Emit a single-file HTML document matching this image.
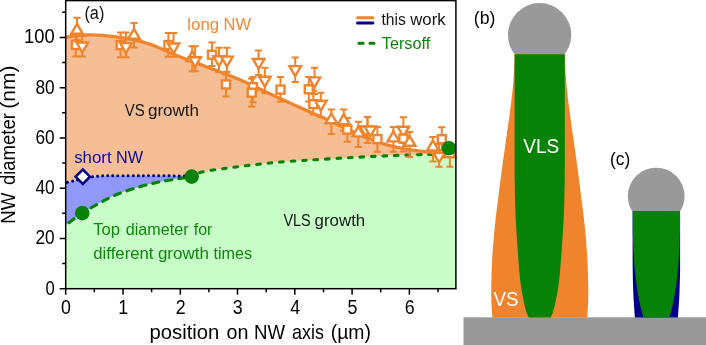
<!DOCTYPE html>
<html><head><meta charset="utf-8"><title>fig</title>
<style>
html,body{margin:0;padding:0;background:#fff;}
body{width:706px;height:345px;overflow:hidden;font-family:"Liberation Sans",sans-serif;}
svg{display:block;will-change:transform;}
text{font-family:"Liberation Sans",sans-serif;}
</style></head><body>
<svg width="706" height="345" viewBox="0 0 706 345">
<rect width="706" height="345" fill="#fff"/>
<defs><clipPath id="cp"><rect x="65.7" y="0.5" width="390.2" height="288.2"/></clipPath></defs>

<g clip-path="url(#cp)">
<path d="M66.0,224.8 C68.7,222.9 76.6,216.8 82.3,213.1 C88.0,209.4 94.0,206.0 100.0,202.8 C106.0,199.6 110.2,197.0 118.0,194.0 C125.8,191.0 138.3,187.1 147.0,184.8 C155.7,182.5 162.6,181.4 170.0,180.0 C177.4,178.6 186.3,177.9 191.6,176.6 C196.9,175.3 196.2,173.4 201.9,172.0 C207.6,170.6 217.8,169.4 225.7,168.3 C233.6,167.2 241.6,166.2 249.5,165.3 C257.4,164.4 265.3,163.4 273.2,162.7 C281.1,161.9 289.9,161.3 297.0,160.8 C304.1,160.3 308.9,160.1 316.0,159.7 C323.1,159.3 331.9,158.7 339.8,158.2 C347.7,157.7 355.7,157.3 363.6,156.9 C371.5,156.5 379.5,156.1 387.4,155.8 C395.3,155.5 404.6,155.2 411.2,155.0 C417.8,154.8 420.7,154.6 427.0,154.4 C433.3,154.2 444.2,153.9 449.0,153.8 C453.8,153.7 454.8,153.6 456.0,153.6 L456,288.7 L65.7,288.7 Z" fill="#C8FFC8"/>
<path d="M66.0,37.3 C68.0,37.0 74.0,35.7 78.0,35.3 C82.0,34.9 85.5,34.8 90.0,34.9 C94.5,35.0 100.0,35.3 105.0,35.7 C110.0,36.1 115.0,36.7 120.0,37.4 C125.0,38.1 130.0,38.9 135.0,40.0 C140.0,41.1 142.5,41.5 150.0,44.3 C157.5,47.1 172.3,53.6 180.0,56.7 C187.7,59.8 189.2,60.3 196.0,62.9 C202.8,65.5 212.7,69.0 221.0,72.3 C229.3,75.5 238.5,79.1 246.0,82.4 C253.5,85.7 257.7,88.1 266.0,92.0 C274.3,95.9 286.5,101.4 296.0,105.7 C305.5,110.0 314.8,114.1 323.0,117.8 C331.2,121.5 337.5,124.6 345.0,128.0 C352.5,131.4 361.3,135.6 368.0,138.3 C374.7,141.0 379.2,142.6 385.0,144.3 C390.8,146.0 397.8,147.5 403.0,148.5 C408.2,149.5 411.5,149.9 416.0,150.5 C420.5,151.1 424.5,151.7 430.0,152.2 C435.5,152.7 444.7,153.2 449.0,153.5 C453.3,153.8 454.8,153.7 456.0,153.7 L456,153.6 L456.0,153.6 C454.8,153.6 453.8,153.7 449.0,153.8 C444.2,153.9 433.3,154.2 427.0,154.4 C420.7,154.6 417.8,154.8 411.2,155.0 C404.6,155.2 395.3,155.5 387.4,155.8 C379.5,156.1 371.5,156.5 363.6,156.9 C355.7,157.3 347.7,157.7 339.8,158.2 C331.9,158.7 323.1,159.3 316.0,159.7 C308.9,160.1 304.1,160.3 297.0,160.8 C289.9,161.3 281.1,161.9 273.2,162.7 C265.3,163.4 257.4,164.4 249.5,165.3 C241.6,166.2 233.6,167.2 225.7,168.3 C217.8,169.4 207.6,170.7 201.9,172.0 C196.2,173.3 196.1,175.8 191.6,176.4 C187.1,177.1 183.6,176.0 175.0,175.9 C166.4,175.8 151.2,175.7 140.0,175.7 C128.8,175.7 114.7,175.6 108.0,175.7 C101.3,175.8 102.2,176.0 100.0,176.1 C97.8,176.2 96.7,176.3 95.0,176.5 C93.3,176.7 91.8,176.8 90.0,177.1 C88.2,177.4 86.0,177.9 84.0,178.3 C82.0,178.8 80.0,179.3 78.0,179.8 C76.0,180.3 74.0,180.8 72.0,181.3 C70.0,181.8 67.0,182.4 66.0,182.6 Z" fill="#F6BE94"/>
<path d="M66.0,182.6 C67.0,182.4 70.0,181.8 72.0,181.3 C74.0,180.8 76.0,180.3 78.0,179.8 C80.0,179.3 82.0,178.8 84.0,178.3 C86.0,177.9 88.2,177.4 90.0,177.1 C91.8,176.8 93.3,176.7 95.0,176.5 C96.7,176.3 97.8,176.2 100.0,176.1 C102.2,176.0 101.3,175.8 108.0,175.7 C114.7,175.6 128.8,175.7 140.0,175.7 C151.2,175.7 166.4,175.8 175.0,175.9 C183.6,176.0 188.8,176.3 191.6,176.4 L191.6,176.6 C188.0,177.2 177.4,178.6 170.0,180.0 C162.6,181.4 155.7,182.5 147.0,184.8 C138.3,187.1 125.8,191.0 118.0,194.0 C110.2,197.0 106.0,199.6 100.0,202.8 C94.0,206.0 88.0,209.4 82.3,213.1 C76.6,216.8 68.7,222.9 66.0,224.8 Z" fill="#9098F8"/>
</g>
<path d="M66.0,224.8 C68.7,222.9 76.6,216.8 82.3,213.1 C88.0,209.4 94.0,206.0 100.0,202.8 C106.0,199.6 110.2,197.0 118.0,194.0 C125.8,191.0 138.3,187.1 147.0,184.8 C155.7,182.5 162.6,181.4 170.0,180.0 C177.4,178.6 186.3,177.9 191.6,176.6" fill="none" stroke="#068206" stroke-width="3.1" stroke-dasharray="6.5 6.8" stroke-linecap="round" stroke-dashoffset="-3.6" clip-path="url(#cp)"/>
<path d="M191.6,176.6 C196.9,175.3 196.2,173.4 201.9,172.0 C207.6,170.6 217.8,169.4 225.7,168.3 C233.6,167.2 241.6,166.2 249.5,165.3 C257.4,164.4 265.3,163.4 273.2,162.7 C281.1,161.9 289.9,161.3 297.0,160.8 C304.1,160.3 308.9,160.1 316.0,159.7 C323.1,159.3 331.9,158.7 339.8,158.2 C347.7,157.7 355.7,157.3 363.6,156.9 C371.5,156.5 379.5,156.1 387.4,155.8 C395.3,155.5 404.6,155.2 411.2,155.0 C417.8,154.8 420.7,154.6 427.0,154.4 C433.3,154.2 444.2,153.9 449.0,153.8 C453.8,153.7 454.8,153.6 456.0,153.6" fill="none" stroke="#068206" stroke-width="3.1" stroke-dasharray="3.6 7.9" stroke-linecap="round" stroke-dashoffset="-9.2" clip-path="url(#cp)"/>
<path d="M66.0,182.6 C67.0,182.4 70.0,181.8 72.0,181.3 C74.0,180.8 76.0,180.3 78.0,179.8 C80.0,179.3 82.0,178.8 84.0,178.3 C86.0,177.9 88.2,177.4 90.0,177.1 C91.8,176.8 93.3,176.7 95.0,176.5 C96.7,176.3 97.8,176.2 100.0,176.1 C102.2,176.0 101.3,175.8 108.0,175.7 C114.7,175.6 128.8,175.7 140.0,175.7 C151.2,175.7 166.4,175.8 175.0,175.9 C183.6,176.0 188.8,176.3 191.6,176.4" fill="none" stroke="#00008B" stroke-width="3" stroke-dasharray="0.1 5.0" stroke-dashoffset="-1.6" stroke-linecap="round" clip-path="url(#cp)"/>
<path d="M66.0,37.3 C68.0,37.0 74.0,35.7 78.0,35.3 C82.0,34.9 85.5,34.8 90.0,34.9 C94.5,35.0 100.0,35.3 105.0,35.7 C110.0,36.1 115.0,36.7 120.0,37.4 C125.0,38.1 130.0,38.9 135.0,40.0 C140.0,41.1 142.5,41.5 150.0,44.3 C157.5,47.1 172.3,53.6 180.0,56.7 C187.7,59.8 189.2,60.3 196.0,62.9 C202.8,65.5 212.7,69.0 221.0,72.3 C229.3,75.5 238.5,79.1 246.0,82.4 C253.5,85.7 257.7,88.1 266.0,92.0 C274.3,95.9 286.5,101.4 296.0,105.7 C305.5,110.0 314.8,114.1 323.0,117.8 C331.2,121.5 337.5,124.6 345.0,128.0 C352.5,131.4 361.3,135.6 368.0,138.3 C374.7,141.0 379.2,142.6 385.0,144.3 C390.8,146.0 397.8,147.5 403.0,148.5 C408.2,149.5 411.5,149.9 416.0,150.5 C420.5,151.1 424.5,151.7 430.0,152.2 C435.5,152.7 444.7,153.2 449.0,153.5 C453.3,153.8 454.8,153.7 456.0,153.7" fill="none" stroke="#F0842C" stroke-width="3.3" clip-path="url(#cp)"/>
<g>
<path d="M75.8,36.0 V56.6 M72.2,36.0 H79.4 M72.2,56.6 H79.4" fill="none" stroke="#F0842C" stroke-width="2"/>
<path d="M82.2,36.0 V56.6 M78.6,36.0 H85.8 M78.6,56.6 H85.8" fill="none" stroke="#F0842C" stroke-width="2"/>
<path d="M77.0,17.8 V40.0 M73.4,17.8 H80.6 M73.4,40.0 H80.6" fill="none" stroke="#F0842C" stroke-width="2"/>
<path d="M120.6,32.5 V57.3 M117.0,32.5 H124.2 M117.0,57.3 H124.2" fill="none" stroke="#F0842C" stroke-width="2"/>
<path d="M125.9,32.5 V57.3 M122.3,32.5 H129.5 M122.3,57.3 H129.5" fill="none" stroke="#F0842C" stroke-width="2"/>
<path d="M134.0,23.0 V47.5 M130.4,23.0 H137.6 M130.4,47.5 H137.6" fill="none" stroke="#F0842C" stroke-width="2"/>
<path d="M168.4,32.9 V56.8 M164.8,32.9 H172.0 M164.8,56.8 H172.0" fill="none" stroke="#F0842C" stroke-width="2"/>
<path d="M173.6,32.9 V56.8 M170.0,32.9 H177.2 M170.0,56.8 H177.2" fill="none" stroke="#F0842C" stroke-width="2"/>
<path d="M192.2,46.2 V71.3 M188.6,46.2 H195.8 M188.6,71.3 H195.8" fill="none" stroke="#F0842C" stroke-width="2"/>
<path d="M195.1,46.2 V71.3 M191.5,46.2 H198.7 M191.5,71.3 H198.7" fill="none" stroke="#F0842C" stroke-width="2"/>
<path d="M212.0,42.5 V66.0 M208.4,42.5 H215.6 M208.4,66.0 H215.6" fill="none" stroke="#F0842C" stroke-width="2"/>
<path d="M219.0,47.8 V72.0 M215.4,47.8 H222.6 M215.4,72.0 H222.6" fill="none" stroke="#F0842C" stroke-width="2"/>
<path d="M226.9,47.8 V72.0 M223.3,47.8 H230.5 M223.3,72.0 H230.5" fill="none" stroke="#F0842C" stroke-width="2"/>
<path d="M226.0,74.5 V96.4 M222.4,74.5 H229.6 M222.4,96.4 H229.6" fill="none" stroke="#F0842C" stroke-width="2"/>
<path d="M252.9,76.9 V102.3 M249.3,76.9 H256.5 M249.3,102.3 H256.5" fill="none" stroke="#F0842C" stroke-width="2"/>
<path d="M251.7,78.8 V106.6 M248.1,78.8 H255.3 M248.1,106.6 H255.3" fill="none" stroke="#F0842C" stroke-width="2"/>
<path d="M258.6,50.4 V75.0 M255.0,50.4 H262.2 M255.0,75.0 H262.2" fill="none" stroke="#F0842C" stroke-width="2"/>
<path d="M264.9,67.8 V93.0 M261.3,67.8 H268.5 M261.3,93.0 H268.5" fill="none" stroke="#F0842C" stroke-width="2"/>
<path d="M280.5,76.9 V101.7 M276.9,76.9 H284.1 M276.9,101.7 H284.1" fill="none" stroke="#F0842C" stroke-width="2"/>
<path d="M295.2,57.4 V82.0 M291.6,57.4 H298.8 M291.6,82.0 H298.8" fill="none" stroke="#F0842C" stroke-width="2"/>
<path d="M308.8,77.0 V101.4 M305.2,77.0 H312.4 M305.2,101.4 H312.4" fill="none" stroke="#F0842C" stroke-width="2"/>
<path d="M314.5,67.8 V94.0 M310.9,67.8 H318.1 M310.9,94.0 H318.1" fill="none" stroke="#F0842C" stroke-width="2"/>
<path d="M313.3,91.0 V114.5 M309.7,91.0 H316.9 M309.7,114.5 H316.9" fill="none" stroke="#F0842C" stroke-width="2"/>
<path d="M320.8,92.8 V117.0 M317.2,92.8 H324.4 M317.2,117.0 H324.4" fill="none" stroke="#F0842C" stroke-width="2"/>
<path d="M331.3,109.5 V134.0 M327.7,109.5 H334.9 M327.7,134.0 H334.9" fill="none" stroke="#F0842C" stroke-width="2"/>
<path d="M343.8,109.6 V131.0 M340.2,109.6 H347.4 M340.2,131.0 H347.4" fill="none" stroke="#F0842C" stroke-width="2"/>
<path d="M347.3,118.0 V141.7 M343.7,118.0 H350.9 M343.7,141.7 H350.9" fill="none" stroke="#F0842C" stroke-width="2"/>
<path d="M358.3,121.7 V147.0 M354.7,121.7 H361.9 M354.7,147.0 H361.9" fill="none" stroke="#F0842C" stroke-width="2"/>
<path d="M367.5,116.9 V143.0 M363.9,116.9 H371.1 M363.9,143.0 H371.1" fill="none" stroke="#F0842C" stroke-width="2"/>
<path d="M367.5,116.9 V143.0 M363.9,116.9 H371.1 M363.9,143.0 H371.1" fill="none" stroke="#F0842C" stroke-width="2"/>
<path d="M377.4,127.0 V151.8 M373.8,127.0 H381.0 M373.8,151.8 H381.0" fill="none" stroke="#F0842C" stroke-width="2"/>
<path d="M393.4,127.0 V151.8 M389.8,127.0 H397.0 M389.8,151.8 H397.0" fill="none" stroke="#F0842C" stroke-width="2"/>
<path d="M403.4,117.3 V143.0 M399.8,117.3 H407.0 M399.8,143.0 H407.0" fill="none" stroke="#F0842C" stroke-width="2"/>
<path d="M403.4,127.0 V151.4 M399.8,127.0 H407.0 M399.8,151.4 H407.0" fill="none" stroke="#F0842C" stroke-width="2"/>
<path d="M409.6,132.0 V157.0 M406.0,132.0 H413.2 M406.0,157.0 H413.2" fill="none" stroke="#F0842C" stroke-width="2"/>
<path d="M432.9,136.9 V161.6 M429.3,136.9 H436.5 M429.3,161.6 H436.5" fill="none" stroke="#F0842C" stroke-width="2"/>
<path d="M441.8,127.3 V150.0 M438.2,127.3 H445.4 M438.2,150.0 H445.4" fill="none" stroke="#F0842C" stroke-width="2"/>
<path d="M439.1,144.0 V166.8 M435.5,144.0 H442.7 M435.5,166.8 H442.7" fill="none" stroke="#F0842C" stroke-width="2"/>
<path d="M449.9,144.0 V166.8 M446.3,144.0 H453.5 M446.3,166.8 H453.5" fill="none" stroke="#F0842C" stroke-width="2"/>
<rect x="71.8" y="41.0" width="8.0" height="8.0" fill="#fff" stroke="#F0842C" stroke-width="2.4"/>
<path d="M76.5,42.5 L88.0,42.5 L82.2,52.4 Z" fill="#fff" stroke="#F0842C" stroke-width="2.4" stroke-linejoin="miter"/>
<path d="M71.2,33.8 L82.8,33.8 L77.0,23.9 Z" fill="#fff" stroke="#F0842C" stroke-width="2.4" stroke-linejoin="miter"/>
<rect x="116.6" y="41.0" width="8.0" height="8.0" fill="#fff" stroke="#F0842C" stroke-width="2.4"/>
<path d="M120.2,43.1 L131.7,43.1 L125.9,53.0 Z" fill="#fff" stroke="#F0842C" stroke-width="2.4" stroke-linejoin="miter"/>
<path d="M128.2,38.8 L139.8,38.8 L134.0,28.9 Z" fill="#fff" stroke="#F0842C" stroke-width="2.4" stroke-linejoin="miter"/>
<rect x="164.4" y="41.0" width="8.0" height="8.0" fill="#fff" stroke="#F0842C" stroke-width="2.4"/>
<path d="M167.8,43.5 L179.3,43.5 L173.6,53.4 Z" fill="#fff" stroke="#F0842C" stroke-width="2.4" stroke-linejoin="miter"/>
<path d="M186.4,61.4 L197.9,61.4 L192.2,51.5 Z" fill="#fff" stroke="#F0842C" stroke-width="2.4" stroke-linejoin="miter"/>
<path d="M189.3,57.2 L200.8,57.2 L195.1,67.1 Z" fill="#fff" stroke="#F0842C" stroke-width="2.4" stroke-linejoin="miter"/>
<rect x="208.0" y="50.7" width="8.0" height="8.0" fill="#fff" stroke="#F0842C" stroke-width="2.4"/>
<path d="M213.2,56.2 L224.8,56.2 L219.0,66.1 Z" fill="#fff" stroke="#F0842C" stroke-width="2.4" stroke-linejoin="miter"/>
<path d="M221.2,56.6 L232.7,56.6 L226.9,66.5 Z" fill="#fff" stroke="#F0842C" stroke-width="2.4" stroke-linejoin="miter"/>
<rect x="222.0" y="80.4" width="8.0" height="8.0" fill="#fff" stroke="#F0842C" stroke-width="2.4"/>
<rect x="248.9" y="83.2" width="8.0" height="8.0" fill="#fff" stroke="#F0842C" stroke-width="2.4"/>
<rect x="247.7" y="88.7" width="8.0" height="8.0" fill="#fff" stroke="#F0842C" stroke-width="2.4"/>
<path d="M252.9,59.0 L264.4,59.0 L258.6,68.9 Z" fill="#fff" stroke="#F0842C" stroke-width="2.4" stroke-linejoin="miter"/>
<path d="M259.1,76.8 L270.6,76.8 L264.9,86.7 Z" fill="#fff" stroke="#F0842C" stroke-width="2.4" stroke-linejoin="miter"/>
<rect x="276.5" y="85.6" width="8.0" height="8.0" fill="#fff" stroke="#F0842C" stroke-width="2.4"/>
<path d="M289.4,66.1 L300.9,66.1 L295.2,76.0 Z" fill="#fff" stroke="#F0842C" stroke-width="2.4" stroke-linejoin="miter"/>
<rect x="304.8" y="85.3" width="8.0" height="8.0" fill="#fff" stroke="#F0842C" stroke-width="2.4"/>
<path d="M308.8,77.4 L320.2,77.4 L314.5,87.3 Z" fill="#fff" stroke="#F0842C" stroke-width="2.4" stroke-linejoin="miter"/>
<rect x="309.3" y="100.2" width="8.0" height="8.0" fill="#fff" stroke="#F0842C" stroke-width="2.4"/>
<path d="M315.1,100.8 L326.6,100.8 L320.8,110.7 Z" fill="#fff" stroke="#F0842C" stroke-width="2.4" stroke-linejoin="miter"/>
<path d="M325.6,123.3 L337.1,123.3 L331.3,113.4 Z" fill="#fff" stroke="#F0842C" stroke-width="2.4" stroke-linejoin="miter"/>
<path d="M338.1,124.1 L349.6,124.1 L343.8,114.2 Z" fill="#fff" stroke="#F0842C" stroke-width="2.4" stroke-linejoin="miter"/>
<rect x="343.3" y="125.6" width="8.0" height="8.0" fill="#fff" stroke="#F0842C" stroke-width="2.4"/>
<path d="M352.6,136.4 L364.1,136.4 L358.3,126.5 Z" fill="#fff" stroke="#F0842C" stroke-width="2.4" stroke-linejoin="miter"/>
<path d="M359.9,126.5 L371.4,126.5 L365.6,136.4 Z" fill="#fff" stroke="#F0842C" stroke-width="2.4" stroke-linejoin="miter"/>
<path d="M364.6,126.5 L376.1,126.5 L370.3,136.4 Z" fill="#fff" stroke="#F0842C" stroke-width="2.4" stroke-linejoin="miter"/>
<rect x="373.4" y="135.1" width="8.0" height="8.0" fill="#fff" stroke="#F0842C" stroke-width="2.4"/>
<path d="M387.6,141.4 L399.1,141.4 L393.4,131.5 Z" fill="#fff" stroke="#F0842C" stroke-width="2.4" stroke-linejoin="miter"/>
<path d="M397.6,126.7 L409.1,126.7 L403.4,136.6 Z" fill="#fff" stroke="#F0842C" stroke-width="2.4" stroke-linejoin="miter"/>
<rect x="399.4" y="134.6" width="8.0" height="8.0" fill="#fff" stroke="#F0842C" stroke-width="2.4"/>
<path d="M403.9,145.8 L415.4,145.8 L409.6,135.9 Z" fill="#fff" stroke="#F0842C" stroke-width="2.4" stroke-linejoin="miter"/>
<path d="M427.1,150.4 L438.6,150.4 L432.9,140.5 Z" fill="#fff" stroke="#F0842C" stroke-width="2.4" stroke-linejoin="miter"/>
<rect x="437.8" y="135.2" width="8.0" height="8.0" fill="#fff" stroke="#F0842C" stroke-width="2.4"/>
<path d="M433.4,152.7 L444.9,152.7 L439.1,162.6 Z" fill="#fff" stroke="#F0842C" stroke-width="2.4" stroke-linejoin="miter"/>
<path d="M444.1,157.3 L455.6,157.3 L449.9,147.4 Z" fill="#fff" stroke="#F0842C" stroke-width="2.4" stroke-linejoin="miter"/>
</g>
<circle cx="82.3" cy="213.1" r="7.3" fill="#068206"/>
<circle cx="191.7" cy="176.6" r="7.3" fill="#068206"/>
<circle cx="449.0" cy="148.2" r="7.3" fill="#068206"/>
<path d="M82.8,169.5 L90,176.7 L82.8,183.9 L75.6,176.7 Z" fill="#fff" stroke="#00008B" stroke-width="2.5"/>
<rect x="65.7" y="0.6" width="390.2" height="288.1" fill="none" stroke="#000" stroke-width="1.5"/>
<path d="M65.7,288.7 v6.0 M94.3,288.7 v3.5 M123.0,288.7 v6.0 M151.6,288.7 v3.5 M180.3,288.7 v6.0 M208.9,288.7 v3.5 M237.5,288.7 v6.0 M266.2,288.7 v3.5 M294.8,288.7 v6.0 M323.5,288.7 v3.5 M352.1,288.7 v6.0 M380.7,288.7 v3.5 M409.4,288.7 v6.0 M438.0,288.7 v3.5 M65.7,288.7 h-6.0 M65.7,263.6 h-3.5 M65.7,238.4 h-6.0 M65.7,213.3 h-3.5 M65.7,188.2 h-6.0 M65.7,163.1 h-3.5 M65.7,137.9 h-6.0 M65.7,112.8 h-3.5 M65.7,87.7 h-6.0 M65.7,62.5 h-3.5 M65.7,37.4 h-6.0 M65.7,12.3 h-3.5" stroke="#000" stroke-width="1.5" fill="none"/>
<text x="66.0" y="313.6" font-size="19.4" textLength="9.9" lengthAdjust="spacingAndGlyphs" text-anchor="middle" fill="#000">0</text>
<text x="123.3" y="313.6" font-size="19.4" textLength="9.9" lengthAdjust="spacingAndGlyphs" text-anchor="middle" fill="#000">1</text>
<text x="180.6" y="313.6" font-size="19.4" textLength="9.9" lengthAdjust="spacingAndGlyphs" text-anchor="middle" fill="#000">2</text>
<text x="237.8" y="313.6" font-size="19.4" textLength="9.9" lengthAdjust="spacingAndGlyphs" text-anchor="middle" fill="#000">3</text>
<text x="295.1" y="313.6" font-size="19.4" textLength="9.9" lengthAdjust="spacingAndGlyphs" text-anchor="middle" fill="#000">4</text>
<text x="352.4" y="313.6" font-size="19.4" textLength="9.9" lengthAdjust="spacingAndGlyphs" text-anchor="middle" fill="#000">5</text>
<text x="409.7" y="313.6" font-size="19.4" textLength="9.9" lengthAdjust="spacingAndGlyphs" text-anchor="middle" fill="#000">6</text>
<text x="45.5" y="294.6" font-size="19.4" textLength="9.2" lengthAdjust="spacingAndGlyphs" fill="#000">0</text>
<text x="35.5" y="244.3" font-size="19.4" textLength="19.2" lengthAdjust="spacingAndGlyphs" fill="#000">20</text>
<text x="35.5" y="194.1" font-size="19.4" textLength="19.2" lengthAdjust="spacingAndGlyphs" fill="#000">40</text>
<text x="35.5" y="143.8" font-size="19.4" textLength="19.2" lengthAdjust="spacingAndGlyphs" fill="#000">60</text>
<text x="35.5" y="93.6" font-size="19.4" textLength="19.2" lengthAdjust="spacingAndGlyphs" fill="#000">80</text>
<text x="24.1" y="43.3" font-size="19.4" textLength="30.7" lengthAdjust="spacingAndGlyphs" fill="#000">100</text>
<text x="149.5" y="338.6" font-size="20.3" textLength="69.8" lengthAdjust="spacingAndGlyphs" fill="#000">position</text>
<text x="226.5" y="338.6" font-size="20.3" textLength="21.9" lengthAdjust="spacingAndGlyphs" fill="#000">on</text>
<text x="254.1" y="338.6" font-size="20.3" textLength="31.1" lengthAdjust="spacingAndGlyphs" fill="#000">NW</text>
<text x="292.1" y="338.6" font-size="20.3" textLength="31.8" lengthAdjust="spacingAndGlyphs" fill="#000">axis</text>
<text x="330.7" y="338.6" font-size="20.3" textLength="40.3" lengthAdjust="spacingAndGlyphs" fill="#000">(µm)</text>
<g transform="translate(14.8,223) rotate(-90)"><text x="-0.7" y="0.0" font-size="20.3" textLength="30.9" lengthAdjust="spacingAndGlyphs" fill="#000">NW</text><text x="37.9" y="0.0" font-size="20.3" textLength="72.1" lengthAdjust="spacingAndGlyphs" fill="#000">diameter</text><text x="114.3" y="0.0" font-size="20.3" textLength="43.2" lengthAdjust="spacingAndGlyphs" fill="#000">(nm)</text></g>
<text x="84.4" y="18.6" font-size="19.2" textLength="20.0" lengthAdjust="spacingAndGlyphs" fill="#141414">(a)</text>
<text x="187.3" y="30.1" font-size="15.8" textLength="31.8" lengthAdjust="spacingAndGlyphs" fill="#F18832">long</text>
<text x="223.6" y="30.1" font-size="15.8" textLength="27.4" lengthAdjust="spacingAndGlyphs" fill="#F18832">NW</text>
<text x="124.7" y="115.9" font-size="15.6" textLength="19.9" lengthAdjust="spacingAndGlyphs" fill="#141414">VS</text>
<text x="147.9" y="115.9" font-size="15.6" textLength="51.2" lengthAdjust="spacingAndGlyphs" fill="#141414">growth</text>
<text x="74.2" y="162.9" font-size="15.8" textLength="37.4" lengthAdjust="spacingAndGlyphs" fill="#0A0A92">short</text>
<text x="116.1" y="162.9" font-size="15.8" textLength="27.0" lengthAdjust="spacingAndGlyphs" fill="#0A0A92">NW</text>
<text x="93.3" y="235.4" font-size="15.8" textLength="26.8" lengthAdjust="spacingAndGlyphs" fill="#0E860E">Top</text>
<text x="125.7" y="235.4" font-size="15.8" textLength="62.9" lengthAdjust="spacingAndGlyphs" fill="#0E860E">diameter</text>
<text x="193.7" y="235.4" font-size="15.8" textLength="18.7" lengthAdjust="spacingAndGlyphs" fill="#0E860E">for</text>
<text x="93.3" y="259.0" font-size="15.8" textLength="60.2" lengthAdjust="spacingAndGlyphs" fill="#0E860E">different</text>
<text x="157.9" y="259.0" font-size="15.8" textLength="51.1" lengthAdjust="spacingAndGlyphs" fill="#0E860E">growth</text>
<text x="213.4" y="259.0" font-size="15.8" textLength="38.6" lengthAdjust="spacingAndGlyphs" fill="#0E860E">times</text>
<text x="283.4" y="225.7" font-size="15.6" textLength="27.4" lengthAdjust="spacingAndGlyphs" fill="#141414">VLS</text>
<text x="314.6" y="225.7" font-size="15.6" textLength="50.6" lengthAdjust="spacingAndGlyphs" fill="#141414">growth</text>
<path d="M357.6,17.8 H372.9" stroke="#F0842C" stroke-width="3.1" stroke-linecap="round"/>
<path d="M357.6,23 H372.9" stroke="#00008B" stroke-width="3.1" stroke-linecap="round"/>
<text x="381.4" y="25.4" font-size="15.8" textLength="24.4" lengthAdjust="spacingAndGlyphs" fill="#141414">this</text>
<text x="410.3" y="25.4" font-size="15.8" textLength="35.3" lengthAdjust="spacingAndGlyphs" fill="#141414">work</text>
<path d="M358.9,43.3 H363.2 M369.9,43.3 H374" stroke="#068206" stroke-width="3" stroke-linecap="round"/>
<text x="381.8" y="48.8" font-size="15.8" textLength="48.4" lengthAdjust="spacingAndGlyphs" fill="#0E860E">Tersoff</text>
<text x="473.8" y="23.6" font-size="19.2" textLength="21.6" lengthAdjust="spacingAndGlyphs" fill="#000">(b)</text>
<text x="610.0" y="165.2" font-size="19.2" textLength="20.2" lengthAdjust="spacingAndGlyphs" fill="#000">(c)</text>
<rect x="463.5" y="317.3" width="243" height="28" fill="#999"/>
<circle cx="539.6" cy="34.8" r="31.7" fill="#999"/>
<path d="M564.9,54.3 C565.1,58.6 565.3,70.7 566.1,80.0 C566.8,89.3 568.1,100.0 569.4,110.0 C570.6,120.0 572.2,130.0 573.6,140.0 C575.0,150.0 576.5,160.0 577.8,170.0 C579.1,180.0 580.5,191.4 581.6,200.0 C582.7,208.6 583.5,214.2 584.3,221.7 C585.1,229.2 585.9,238.0 586.4,245.0 C586.9,252.0 587.3,256.2 587.6,263.5 C587.9,270.8 588.2,281.6 588.3,288.5 C588.4,295.4 588.2,300.2 588.0,305.0 C587.8,309.8 587.4,315.3 587.3,317.4 L492.3,317.4 C492.2,315.3 491.8,309.8 491.6,305.0 C491.4,300.2 491.2,295.4 491.3,288.5 C491.4,281.6 491.7,270.8 492.0,263.5 C492.3,256.2 492.6,252.0 493.2,245.0 C493.7,238.0 494.5,229.2 495.3,221.7 C496.1,214.2 496.9,208.6 498.0,200.0 C499.1,191.4 500.5,180.0 501.8,170.0 C503.1,160.0 504.6,150.0 506.0,140.0 C507.4,130.0 508.9,120.0 510.2,110.0 C511.4,100.0 512.8,89.3 513.5,80.0 C514.2,70.7 514.5,58.6 514.7,54.3 Z" fill="#F0842C"/>
<path d="M564.8,54.3 C564.8,65.2 564.8,101.5 564.8,120.0 C564.8,138.4 564.8,155.0 564.8,165.0 C564.8,175.0 564.8,174.2 564.7,180.0 C564.6,185.8 564.5,193.1 564.3,200.0 C564.1,206.9 563.9,214.6 563.5,221.7 C563.1,228.8 562.7,235.6 562.2,242.6 C561.7,249.6 561.3,256.6 560.7,263.5 C560.1,270.4 559.5,278.1 558.7,284.3 C557.9,290.6 556.6,296.5 555.7,301.0 C554.8,305.5 554.0,308.8 553.2,311.5 C552.4,314.2 551.1,316.4 550.7,317.4 L528.7,317.4 C528.3,316.4 527.0,314.2 526.2,311.5 C525.4,308.8 524.6,305.5 523.7,301.0 C522.8,296.5 521.5,290.6 520.7,284.3 C519.9,278.1 519.3,270.4 518.7,263.5 C518.1,256.6 517.7,249.6 517.2,242.6 C516.7,235.6 516.3,228.8 515.9,221.7 C515.6,214.6 515.3,206.9 515.1,200.0 C514.9,193.1 514.8,185.8 514.7,180.0 C514.6,174.2 514.6,175.0 514.6,165.0 C514.6,155.0 514.6,138.4 514.6,120.0 C514.6,101.5 514.6,65.2 514.6,54.3 Z" fill="#068206"/>
<text x="523.2" y="152.6" font-size="20.4" textLength="36" lengthAdjust="spacingAndGlyphs" fill="#fff">VLS</text>
<text x="493.5" y="305.6" font-size="20.4" textLength="25" lengthAdjust="spacingAndGlyphs" fill="#fff">VS</text>
<circle cx="656.2" cy="196.1" r="28.4" fill="#999"/>
<path d="M680.1,211.5 C680.1,217.9 680.2,240.2 680.1,250.0 C680.1,259.8 680.2,263.3 680.1,270.0 C680.0,276.7 679.8,284.2 679.6,290.0 C679.4,295.8 679.1,300.4 678.8,305.0 C678.5,309.6 678.0,315.3 677.9,317.4 L634.9,317.4 C634.8,315.3 634.3,309.6 634.0,305.0 C633.7,300.4 633.4,295.8 633.2,290.0 C633.0,284.2 632.8,276.7 632.7,270.0 C632.6,263.3 632.7,259.8 632.6,250.0 C632.6,240.2 632.6,217.9 632.6,211.5 Z" fill="#00008B"/>
<path d="M680.0,211.5 C680.0,215.4 680.1,227.6 679.9,235.0 C679.7,242.4 679.3,250.2 679.0,256.0 C678.7,261.8 678.4,265.7 678.0,270.0 C677.6,274.3 677.1,278.2 676.6,282.0 C676.1,285.8 675.6,289.5 675.0,293.0 C674.4,296.5 673.7,300.0 673.1,303.0 C672.5,306.0 671.8,308.6 671.2,311.0 C670.6,313.4 669.8,316.3 669.5,317.4 L643.3,317.4 C643.0,316.3 642.2,313.4 641.6,311.0 C641.0,308.6 640.3,306.0 639.7,303.0 C639.1,300.0 638.4,296.5 637.8,293.0 C637.2,289.5 636.7,285.8 636.2,282.0 C635.7,278.2 635.2,274.3 634.8,270.0 C634.4,265.7 634.1,261.8 633.8,256.0 C633.5,250.2 633.1,242.4 632.9,235.0 C632.7,227.6 632.8,215.4 632.8,211.5 Z" fill="#068206"/>
</svg></body></html>
